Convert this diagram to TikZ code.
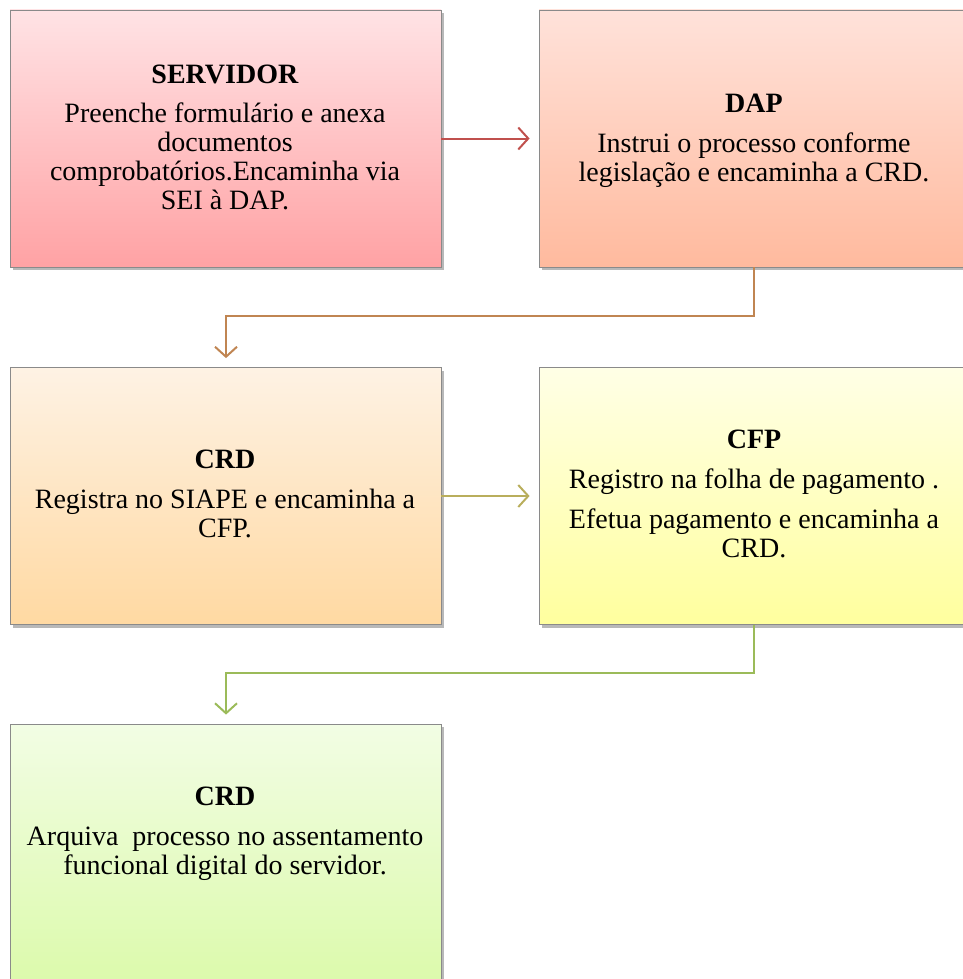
\documentclass[tikz,border=0pt]{standalone}
\usepackage{fontspec}
\setmainfont{Liberation Serif}
\usetikzlibrary{arrows.meta,shadows}

% box fills (top / bottom of each gradient)
\definecolor{servTop}{HTML}{FFE3E5}
\definecolor{servBot}{HTML}{FFA2A4}
\definecolor{dapTop}{HTML}{FFE2DA}
\definecolor{dapBot}{HTML}{FFBA9E}
\definecolor{crdTop}{HTML}{FEF2E4}
\definecolor{crdBot}{HTML}{FFD9A2}
\definecolor{cfpTop}{HTML}{FFFFE6}
\definecolor{cfpBot}{HTML}{FFFF9E}
\definecolor{arqTop}{HTML}{F2FDE4}
\definecolor{arqBot}{HTML}{DCFAAC}
\definecolor{boxLine}{HTML}{8A8A8A}
% connector colours
\definecolor{linkRed}{HTML}{C0504D}
\definecolor{linkBrown}{HTML}{C08552}
\definecolor{linkOlive}{HTML}{B9AE5C}
\definecolor{linkGreen}{HTML}{9BBB59}

\begin{document}
\begin{tikzpicture}[x=1pt,y=-1pt,
  stepbox/.style={draw=boxLine, line width=0.8pt, inner sep=0pt,
    minimum width=431pt, minimum height=257pt,
    drop shadow={shadow xshift=2.5pt, shadow yshift=-3pt, fill=black, opacity=0.28}},
  txt/.style={inner sep=0pt, align=center, font=\fontsize{28}{28.7}\selectfont},
  link/.style={line width=2pt, shorten >=9pt,
    -{Straight Barb[length=10pt, width=22pt, line width=2pt]}},
]
\useasboundingbox (0,0) rectangle (962,979);

% process boxes
\node[stepbox, top color=servTop, bottom color=servBot] (serv) at (225.5,138.5) {};
\node[stepbox, top color=dapTop, bottom color=dapBot] (dap) at (754.5,138.5) {};
\node[stepbox, top color=crdTop, bottom color=crdBot] (crd) at (225.5,496) {};
\node[stepbox, top color=cfpTop, bottom color=cfpBot] (cfp) at (754.5,496) {};
\node[stepbox, top color=arqTop, bottom color=arqBot] (arq) at (225.5,852.5) {};

% box texts (anchored on the baseline of their last line)
\node[txt, anchor=base] (servT) at (225,209) {\textbf{SERVIDOR}\\[11pt]
  Preenche formulário e anexa\\ documentos\\ comprobatórios.Encaminha via\\ SEI à DAP.};
\node[txt, anchor=base] (dapT) at (754,181) {\textbf{DAP}\\[11pt]
  Instrui o processo conforme\\ legislação e encaminha a CRD.};
\node[txt, anchor=base] (crdT) at (225,537) {\textbf{CRD}\\[11pt]
  Registra no SIAPE e encaminha a\\ CFP.};
\node[txt, anchor=base] (cfpT) at (754,557) {\textbf{CFP}\\[11pt]
  Registro na folha de pagamento .\\[11pt] Efetua pagamento e encaminha a\\ CRD.};
\node[txt, anchor=base] (arqT) at (225,874) {\textbf{CRD}\\[11pt]
  Arquiva\ \ processo no assentamento\\ funcional digital do servidor.};

% connectors
\coordinate (bendA) at (754,316);
\coordinate (bendB) at (226,316);
\coordinate (bendC) at (754,673);
\coordinate (bendD) at (226,673);
\draw[link, linkRed] (serv.east) -- (dap.west);
\draw[link, linkBrown] (dap.south -| bendA) -- (bendA) -- (bendB) -- (bendB |- crd.north);
\draw[link, linkOlive] (crd.east) -- (cfp.west);
\draw[link, linkGreen] (cfp.south -| bendC) -- (bendC) -- (bendD) -- (bendD |- arq.north);
\end{tikzpicture}
\end{document}
